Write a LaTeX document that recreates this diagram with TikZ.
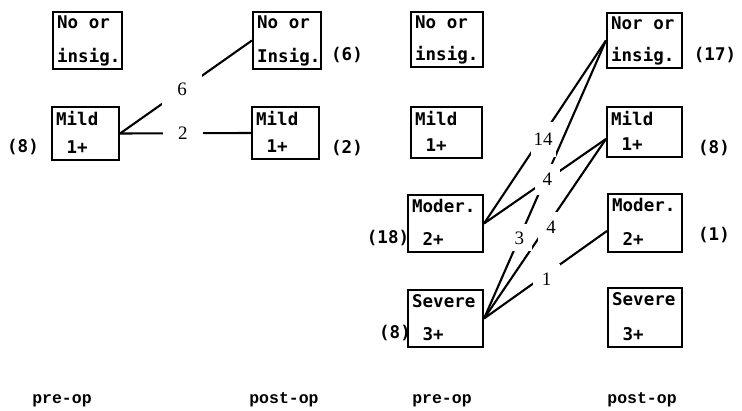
\documentclass[tikz,border=0pt]{standalone}
\usepackage{fontspec}
\usetikzlibrary{calc}
\newfontfamily\gradefont{DejaVu Sans Mono}
\newfontfamily\phasefont{Liberation Mono}
\newfontfamily\countfont{Liberation Serif}

% grade box: name, centre, width, height, first line, second line
\newcommand\gradebox[6]{%
  \node[gbox, minimum width=#3, minimum height=#4] (#1) at (#2) {};
  \node[gtxt, anchor=north west] (#1-top) at ([shift={(5pt,-5pt)}]#1.north west) {#5};
  \node[gtxt, anchor=base west] (#1-bot) at ([shift={(5pt,8pt)}]#1.south west) {#6};
}

\begin{document}
\begin{tikzpicture}[x=1pt,y=-1pt,
  gbox/.style={draw, line width=2.1pt, inner sep=0pt},
  gtxt/.style={inner sep=0pt, font=\gradefont\bfseries\fontsize{17.5}{21}\selectfont},
  tally/.style={inner sep=0pt, font=\gradefont\bfseries\fontsize{17.5}{21}\selectfont},
  link/.style={line width=2.1pt},
  num/.style={fill=white, inner xsep=9pt, inner ysep=9pt, font=\countfont\fontsize{19}{22}\selectfont},
  phase/.style={inner sep=0pt, anchor=base, font=\phasefont\bfseries\fontsize{16.5}{20}\selectfont}]

\useasboundingbox[fill=white] (0,0) rectangle (742,411);

% first study: pre-op and post-op columns
\gradebox{a1}{87.5,40.5}{69pt}{57pt}{No or}{insig.}
\gradebox{a2}{85.5,133.5}{67pt}{53pt}{Mild}{~1+}
\gradebox{b1}{287,40.5}{68pt}{57pt}{No or}{Insig.}
\gradebox{b2}{285.5,133}{67pt}{52pt}{Mild}{~1+}

% second study: pre-op and post-op columns
\gradebox{c1}{447,39.5}{72pt}{55pt}{No or}{insig.}
\gradebox{c2}{446.5,132.5}{71pt}{51pt}{Mild}{~1+}
\gradebox{c3}{445.5,223.5}{75pt}{57pt}{Moder.}{~2+}
\gradebox{c4}{445.5,318.5}{75pt}{57pt}{Severe}{~3+}
\gradebox{d1}{644.5,40.5}{75pt}{55pt}{Nor or}{insig.}
\gradebox{d2}{644.5,132}{75pt}{50pt}{Mild}{~1+}
\gradebox{d3}{645,223}{74pt}{58pt}{Moder.}{~2+}
\gradebox{d4}{645,317.5}{74pt}{59pt}{Severe}{~3+}

\coordinate (d2in) at ([yshift=-7pt]d2.west);
\coordinate (d3in) at ([yshift=-8pt]d3.west);

% transitions
\draw[link] (a2.east) -- (b1.west);
\draw[link] (a2.east) -- (b2.west);
\draw[link] (c3.east) -- (d1.west);
\draw[link] (c3.east) -- (d2in);
\draw[link] (c4.east) -- (d1.west);
\draw[link] (c4.east) -- (d2in);
\draw[link] (c4.east) -- (d3in);

% patient counts on the transitions
\node[num, inner xsep=15pt] (n6) at ($(a2.east)!0.47!(b1.west)$) {6};
\node[num, inner xsep=15pt] (n2) at ($(a2.east)!0.48!(b2.west)$) {2};
\node[num, inner xsep=3pt, inner ysep=11pt] (n14) at ($(c3.east)!0.46!(d1.west)+(3pt,0pt)$) {14};
\node[num, inner xsep=8pt] (n4a) at ($(c3.east)!0.52!(d2in)$) {4};
\node[num, inner ysep=7pt, inner xsep=8pt] (n3) at ($(c4.east)!0.29!(d1.west)$) {3};
\node[num, inner xsep=8pt] (n4b) at ($(c4.east)!0.51!(d2in)+(5pt,0pt)$) {4};
\node[num] (n1) at ($(c4.east)!0.51!(d3in)+(0pt,-5pt)$) {1};

% totals beside the boxes
\node[tally] (t1) at (23,147) {(8)};
\node[tally] (t2) at (347,55) {(6)};
\node[tally] (t3) at (347,148) {(2)};
\node[tally] (t4) at (388,238) {(18)};
\node[tally] (t5) at (395,333) {(8)};
\node[tally] (t6) at (715,55) {(17)};
\node[tally] (t7) at (714,148) {(8)};
\node[tally] (t8) at (714,235) {(1)};

% column captions
\node[phase] (p1) at (62,404) {pre-op};
\node[phase] (p2) at (284,404) {post-op};
\node[phase] (p3) at (442,404) {pre-op};
\node[phase] (p4) at (642,404) {post-op};
\end{tikzpicture}
\end{document}
